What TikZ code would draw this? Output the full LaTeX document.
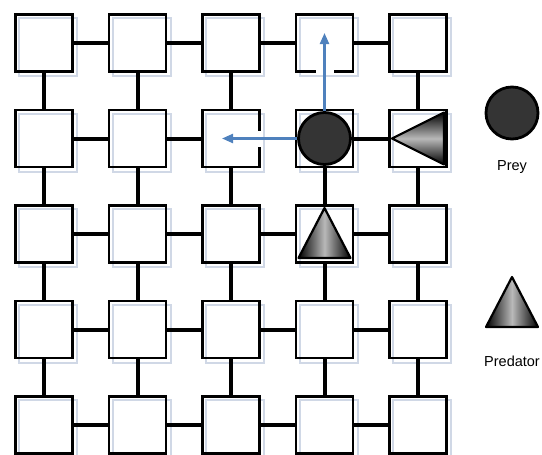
\documentclass[tikz,border=0pt]{standalone}
\usepackage{fontspec}
\setmainfont{Liberation Sans}
\usepackage{tikz}
\usetikzlibrary{arrows.meta,calc}
\definecolor{arrowblue}{RGB}{79,129,189}
\definecolor{shadowblue}{RGB}{208,216,230}
\definecolor{preygray}{RGB}{52,52,52}

\begin{document}
\begin{tikzpicture}[x=1pt, y=-1pt,
    cell/.style={draw=black, line width=2.8pt, minimum size=57pt, inner sep=0pt},
    cellshadow/.style={draw=shadowblue, line width=2pt},
    link/.style={line width=4pt},
    preyshape/.style={circle, draw=black, line width=2.8pt, fill=preygray, minimum size=52pt, inner sep=0pt},
    predshape/.style={draw=black, line width=2.2pt, line join=round},
    move/.style={arrowblue, line width=2.2pt, -{Triangle[length=11pt, width=9pt]}},
    legendtext/.style={font=\fontsize{14.5}{16}\selectfont}]
    \useasboundingbox (0,0) rectangle (542,455);

    % --- Grid cells ---
    \foreach \r in {1,...,5}{
        \foreach \c in {1,...,5}{
            \pgfmathsetmacro{\cx}{44+93.5*(\c-1)}
            \pgfmathsetmacro{\cy}{43+95.5*(\r-1)}
            \draw[cellshadow] (\cx-25,\cy-25) rectangle (\cx+33,\cy+33);
            \node[cell] (c\r\c) at (\cx,\cy) {};
        }
    }

    % Horizontal links
    \foreach \r in {1,...,5}{
        \foreach \c [evaluate=\c as \n using int(\c+1)] in {1,...,4}{
            \ifnum\r\c=23 \else \draw[link] (c\r\c.east) -- (c\r\n.west); \fi
        }
    }
    % Vertical links
    \foreach \c in {1,...,5}{
        \foreach \r [evaluate=\r as \n using int(\r+1)] in {1,...,4}{
            \ifnum\r\c=14 \else \draw[link] (c\r\c.south) -- (c\n\c.north); \fi
        }
    }

    % Openings where the moves enter
    \fill[white] ($(c14.south)+(-9,-2.5)$) rectangle ($(c14.south)+(9,2.5)$);
    \fill[white] ($(c23.east)+(-2.5,-8)$) rectangle ($(c23.east)+(2.5,8)$);

    % --- Prey and its moves ---
    \node[preyshape] (prey) at (c24) {};
    \coordinate (upend) at ($(c14.center)+(0,-10)$);
    \coordinate (leftend) at ($(c23.center)+(-9,0)$);
    \draw[move] (prey.north) -- (upend);
    \draw[move] (prey.west) -- (leftend);

    % --- Predators ---
    \draw[predshape, shift={(c34.center)}, left color=black, right color=black, middle color=gray!55]
        (0,-26) -- (26,24) -- (-26,24) -- cycle;
    \draw[predshape, shift={(c25.center)}, top color=black, bottom color=black, middle color=gray!55]
        (-26,0) -- (26,-26) -- (26,26) -- cycle;

    % --- Legend ---
    \node[preyshape] (legprey) at (512,113) {};
    \node[legendtext] (preylabel) at (512,167) {Prey};
    \draw[predshape, left color=black, right color=black, middle color=gray!55]
        (512,277) -- (538,327) -- (486,327) -- cycle;
    \node[legendtext] (predlabel) at (512,361) {Predator};
\end{tikzpicture}
\end{document}
